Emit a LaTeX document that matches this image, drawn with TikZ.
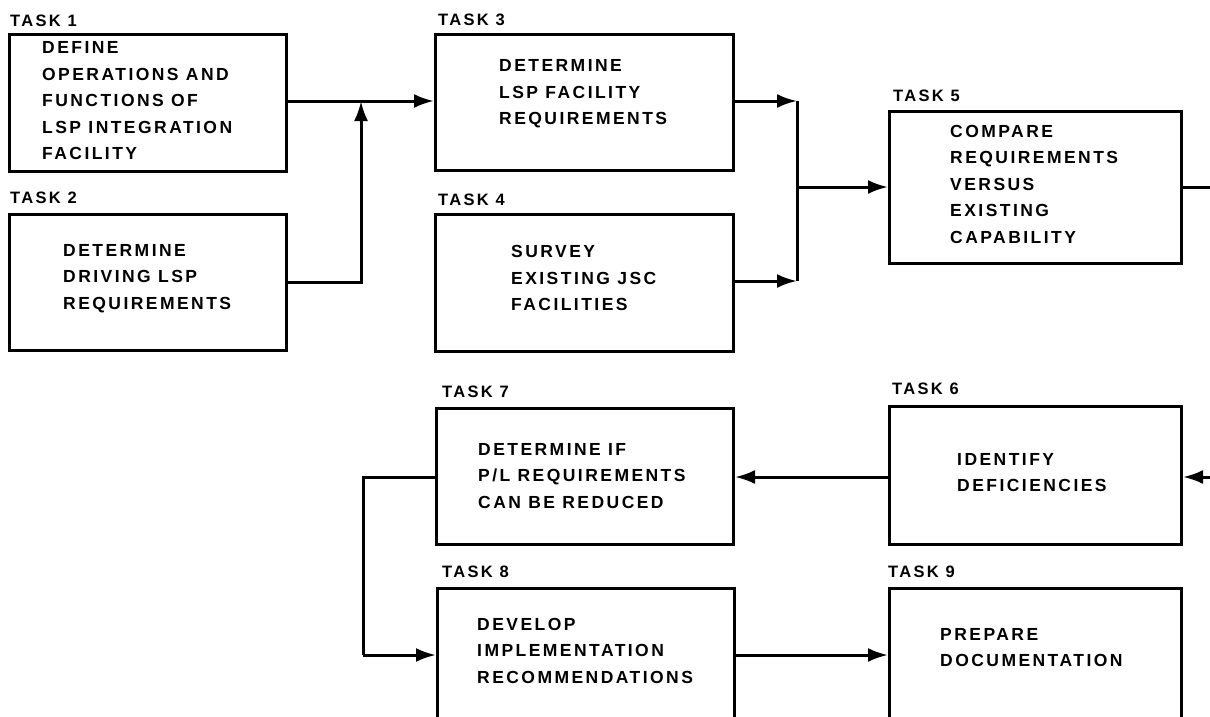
\documentclass[tikz,border=0pt]{standalone}
\usepackage{fontspec}
\setmainfont{Liberation Sans}[LetterSpace=14]
\usetikzlibrary{arrows.meta}
\begin{document}
\begin{tikzpicture}[x=1pt,y=-1pt,
  box/.style={draw,line width=3pt,inner sep=0pt,anchor=north west},
  body/.style={anchor=west,align=left,inner sep=0pt,font=\fontsize{17.5}{26.5}\selectfont\bfseries},
  tasklbl/.style={anchor=west,inner sep=0pt,font=\fontsize{16.5}{20}\selectfont\bfseries},
  wire/.style={draw,line width=3pt},
  arr/.style={draw,line width=3pt,-{Latex[length=20pt,width=14pt]}}]
\clip (0,0) rectangle (1210,717);
\fill[white] (0,0) rectangle (1210,717);
% boxes
\node[box,minimum width=277pt,minimum height=137pt] (b1) at (8,33) {};
\node[box,minimum width=277pt,minimum height=136pt] (b2) at (8,213) {};
\node[box,minimum width=298pt,minimum height=136pt] (b3) at (434,33) {};
\node[box,minimum width=298pt,minimum height=137pt] (b4) at (434,213) {};
\node[box,minimum width=292pt,minimum height=152pt] (b5) at (888,110) {};
\node[box,minimum width=292pt,minimum height=138pt] (b6) at (888,405) {};
\node[box,minimum width=297pt,minimum height=136pt] (b7) at (435,407) {};
\node[box,minimum width=297pt,minimum height=160pt] (b8) at (436,587) {};
\node[box,minimum width=292pt,minimum height=160pt] (b9) at (888,587) {};
% labels
\node[tasklbl] (l1) at (10,21) {TASK 1};
\node[tasklbl] (l2) at (10,198) {TASK 2};
\node[tasklbl] (l3) at (438,20) {TASK 3};
\node[tasklbl] (l4) at (438,200) {TASK 4};
\node[tasklbl] (l5) at (893,96) {TASK 5};
\node[tasklbl] (l6) at (892,389) {TASK 6};
\node[tasklbl] (l7) at (442,392) {TASK 7};
\node[tasklbl] (l8) at (442,572) {TASK 8};
\node[tasklbl] (l9) at (888,572) {TASK 9};
% texts
\node[body] (t1) at (42,101) {DEFINE\\OPERATIONS AND\\FUNCTIONS OF\\LSP INTEGRATION\\FACILITY};
\node[body] (t2) at (63,278.5) {DETERMINE\\DRIVING LSP\\REQUIREMENTS};
\node[body] (t3) at (499,94) {DETERMINE\\LSP FACILITY\\REQUIREMENTS};
\node[body] (t4) at (511,278) {SURVEY\\EXISTING JSC\\FACILITIES};
\node[body] (t5) at (950,184) {COMPARE\\REQUIREMENTS\\VERSUS\\EXISTING\\CAPABILITY};
\node[body] (t6) at (957,472.5) {IDENTIFY\\DEFICIENCIES};
\node[body] (t7) at (478,476) {DETERMINE IF\\P/L REQUIREMENTS\\CAN BE REDUCED};
\node[body] (t8) at (477,650.5) {DEVELOP\\IMPLEMENTATION\\RECOMMENDATIONS};
\node[body] (t9) at (940,647.5) {PREPARE\\DOCUMENTATION};
% junction coordinates
\coordinate (j1) at (361,101);
\coordinate (j2a) at (797,101);
\coordinate (j2b) at (797,281);
\coordinate (j2) at (797,187);
\coordinate (out5) at (1211,187);
\coordinate (in6) at (1211,477);
\coordinate (j3) at (363,477);
\coordinate (j4) at (363,655);
% connectors
\draw[arr] (b1.east |- j1) -- (b3.west |- j1);
\draw[arr] (b2.east) -| (j1);
\draw[arr] (b3.east |- j2a) -- (j2a);
\draw[arr] (b4.east |- j2b) -- (j2b);
\draw[wire] (j2a) -- (j2b);
\draw[arr] (j2) -- (b5.west |- j2);
\draw[wire] (b5.east |- out5) -- (out5);
\draw[arr] (in6) -- (b6.east |- in6);
\draw[arr] (b6.west |- in6) -- (b7.east |- in6);
\draw[wire] (b7.west |- j3) -- (j3) -- (j4);
\draw[arr] (j4) -- (b8.west |- j4);
\draw[arr] (b8.east |- j4) -- (b9.west |- j4);
\end{tikzpicture}
\end{document}
